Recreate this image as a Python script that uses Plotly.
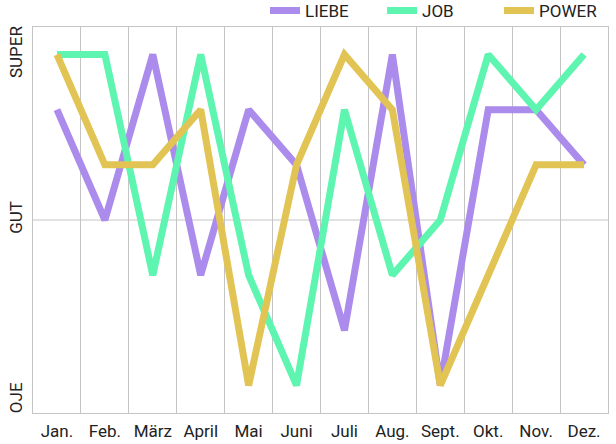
import plotly.graph_objects as go

months = ["Jan.", "Feb.", "März", "April", "Mai", "Juni", "Juli", "Aug.", "Sept.", "Okt.", "Nov.", "Dez."]
liebe = [5, 3, 6, 2, 5, 4, 1, 6, 0, 5, 5, 4]
job = [6, 6, 2, 6, 2, 0, 5, 2, 3, 6, 5, 6]
power = [6, 4, 4, 5, 0, 4, 6, 5, 0, 2, 4, 4]
y_tick_vals = [6, 3, -0.27]
y_tick_text = ["SUPER", "GUT", "OJE"]
gut_level = 3

series = [("LIEBE", liebe, "#ab8beb"), ("JOB", job, "#5ef5b0"), ("POWER", power, "#e2c454")]

FONT = "Roboto, sans-serif"

fig = go.Figure()
for name, vals, col in series:
    fig.add_trace(go.Scatter(x=months, y=vals, name=name, mode="lines",
                             line=dict(color=col, width=7)))

fig.add_hline(y=gut_level, line=dict(color="#c4c4c4", width=1), layer="below")

fig.update_layout(
    width=616, height=444,
    margin=dict(l=33, r=8, t=27, b=31, autoexpand=False),
    paper_bgcolor="white", plot_bgcolor="white",
    font=dict(family=FONT, size=17, color="#222222"),
    showlegend=True,
    legend=dict(orientation="h", xref="container", x=1.0, xanchor="right",
                y=0.995, yanchor="bottom",
                font=dict(size=17), itemwidth=30, entrywidth=72,
                bgcolor="rgba(0,0,0,0)"),
    xaxis=dict(range=[-0.5, 11.5], tickson="boundaries", showgrid=True,
               gridcolor="#c4c4c4", gridwidth=1, tickangle=0,
               showline=True, linecolor="#c4c4c4", mirror=True, ticks="",
               ticklabelstandoff=3),
    yaxis=dict(range=[-0.5, 6.5], tickvals=y_tick_vals, ticktext=y_tick_text,
               tickangle=-90, showgrid=False, zeroline=False, showline=True,
               linecolor="#c4c4c4", mirror=True, ticks="", ticklabelstandoff=3),
)

fig.write_html("out.html")
